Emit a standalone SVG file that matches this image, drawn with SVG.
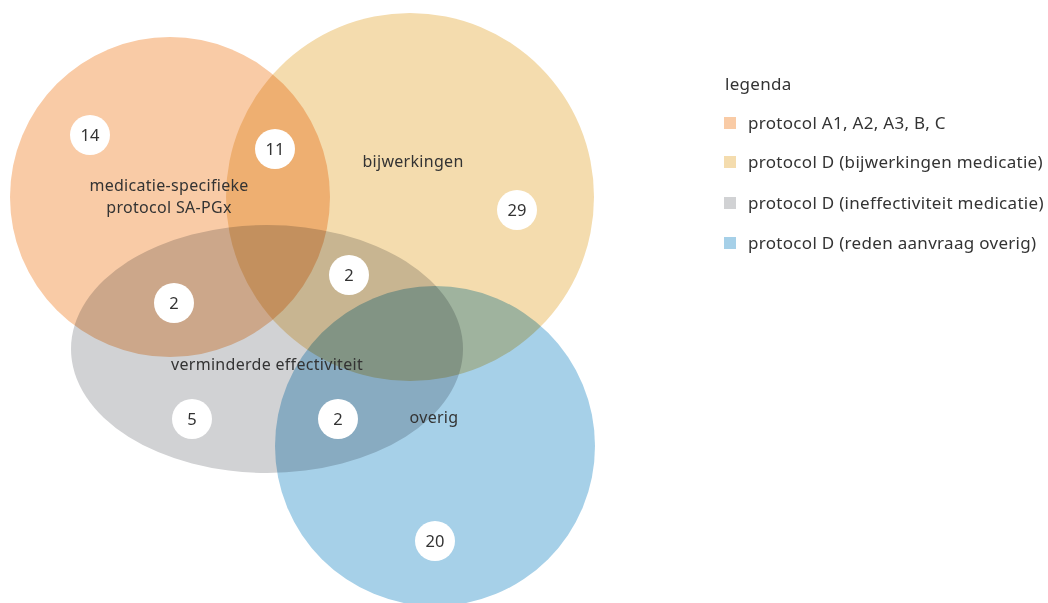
<svg xmlns="http://www.w3.org/2000/svg" width="1048" height="603" viewBox="0 0 1048 603">
<style>
.set{mix-blend-mode:multiply}
.num{fill:#ffffff}
text{font-family:"Noto Sans","Open Sans","Liberation Sans",sans-serif;fill:#333333}
.lbl{font-size:16px;letter-spacing:0.3px;text-anchor:middle}
.n{font-size:16.5px;text-anchor:middle}
.leg{font-size:17px;letter-spacing:0.3px}
</style>
<rect width="1048" height="603" fill="#ffffff"/>
<g id="sets" style="isolation:isolate">
<g id="set-a"><circle class="set" cx="170" cy="197" r="160" fill="#f9cba6"/></g>
<g id="set-d-bij"><circle class="set" cx="410" cy="197" r="184" fill="#f4dcae"/></g>
<g id="set-d-ineff"><ellipse class="set" cx="267" cy="349" rx="196" ry="124" fill="#d1d2d4"/></g>
<g id="set-d-overig"><circle class="set" cx="435" cy="446" r="160" fill="#a6d0e8"/></g>
</g>
<g id="labels">
<text class="lbl" x="169" y="191">medicatie-specifieke</text>
<text class="lbl" x="169" y="213">protocol SA-PGx</text>
<text class="lbl" x="413" y="167">bijwerkingen</text>
<text class="lbl" x="267" y="370">verminderde effectiviteit</text>
<text class="lbl" x="434" y="423">overig</text>
</g>
<g id="counts">
<g id="c14"><circle class="num" cx="90" cy="135" r="20"/><text class="n" x="90" y="141">14</text></g>
<g id="c11"><circle class="num" cx="275" cy="149" r="20"/><text class="n" x="275" y="155">11</text></g>
<g id="c29"><circle class="num" cx="517" cy="210" r="20"/><text class="n" x="517" y="216">29</text></g>
<g id="c2a"><circle class="num" cx="349" cy="275" r="20"/><text class="n" x="349" y="281">2</text></g>
<g id="c2b"><circle class="num" cx="174" cy="303" r="20"/><text class="n" x="174" y="309">2</text></g>
<g id="c5"><circle class="num" cx="192" cy="419" r="20"/><text class="n" x="192" y="425">5</text></g>
<g id="c2c"><circle class="num" cx="338" cy="419" r="20"/><text class="n" x="338" y="425">2</text></g>
<g id="c20"><circle class="num" cx="435" cy="541" r="20"/><text class="n" x="435" y="547">20</text></g>
</g>
<g id="legend">
<text class="leg" x="725" y="90">legenda</text>
<rect x="724" y="117" width="12" height="12" fill="#f9cba6"/>
<text class="leg" x="748" y="129">protocol A1, A2, A3, B, C</text>
<rect x="724" y="156" width="12" height="12" fill="#f4dcae"/>
<text class="leg" x="748" y="168">protocol D (bijwerkingen medicatie)</text>
<rect x="724" y="197" width="12" height="12" fill="#d1d2d4"/>
<text class="leg" x="748" y="209">protocol D (ineffectiviteit medicatie)</text>
<rect x="724" y="237" width="12" height="12" fill="#a6d0e8"/>
<text class="leg" x="748" y="249">protocol D (reden aanvraag overig)</text>
</g>
</svg>
